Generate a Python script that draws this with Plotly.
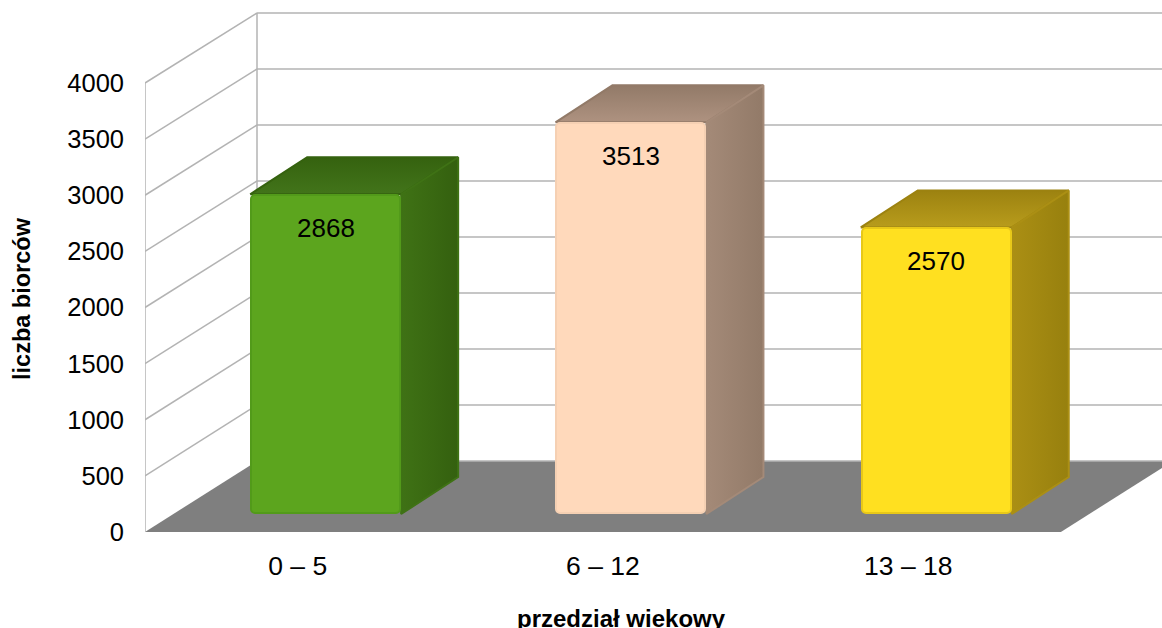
import plotly.graph_objects as go

categories = ["0 – 5", "6 – 12", "13 – 18"]
values = [2868, 3513, 2570]
y_ticks = [0, 500, 1000, 1500, 2000, 2500, 3000, 3500, 4000]
x_title = "przedział wiekowy"
y_title = "liczba biorców"

front_colors = ["#5CA51E", "#FFD9BB", "#FFE020"]
edge_colors = ["#529A1A", "#F5D0B3", "#E8C818"]
top_colors = [("#35620F", "#42741A"), ("#927A68", "#AE9280"), ("#9C8210", "#B89C1C")]
side_colors = [("#3F7215", "#34600F"), ("#A48A78", "#927A68"), ("#AB8F14", "#97800E")]

W, H = 1162, 628
LEFT, BOTTOM = 145, 96
PX_PER_CAT = 305.3
PX_PER_VAL = 449 / 4000

px_x = lambda p: p / PX_PER_CAT
px_y = lambda p: p / PX_PER_VAL

X0 = -0.5
WALL_DX = px_x(112)
WALL_DY = px_y(71)
BACK_SCALE = 448 / 449
BAR_SHIFT = px_x(28)
BAR_WIDTH = px_x(151)
BAR_BASE = px_y(18)
BAR_SCALE = 0.9933
BAR_DX = px_x(57)
BAR_DY = px_y(37)
GRID = "#B3B3B3"
FONT = "Liberation Sans"

shapes = []
line = dict(color=GRID, width=1.5)
x_front_end = X0 + len(categories)
x_back = X0 + WALL_DX
x_end = x_front_end + WALL_DX

# floor
floor_path = (
    f"M {X0} 0 L {x_back} {WALL_DY} L {x_end} {WALL_DY} L {x_front_end} 0 Z"
)
shapes.append(dict(type="path", path=floor_path, fillcolor="#7F7F7F",
                   line=dict(width=0), layer="below", xref="x", yref="y"))
# walls
for v in y_ticks:
    yb = WALL_DY + v * BACK_SCALE
    if v > 0:
        shapes.append(dict(type="line", x0=X0, y0=v, x1=x_back, y1=yb, line=line, layer="below"))
    shapes.append(dict(type="line", x0=x_back, y0=yb, x1=x_end, y1=yb, line=line, layer="below"))
shapes.append(dict(type="line", x0=X0, y0=0, x1=X0, y1=y_ticks[-1], line=line, layer="below"))
shapes.append(dict(type="line", x0=x_back, y0=WALL_DY, x1=x_back,
                   y1=WALL_DY + y_ticks[-1] * BACK_SCALE, line=line, layer="below"))

fig = go.Figure()
centers = [i + BAR_SHIFT for i in range(len(categories))]
heights = [v * BAR_SCALE for v in values]

annotations = []
for c, h, val, top, side in zip(centers, heights, values, top_colors, side_colors):
    xl, xr = c - BAR_WIDTH / 2, c + BAR_WIDTH / 2
    yt = BAR_BASE + h
    # top face
    fig.add_trace(go.Scatter(
        x=[xl, xr, xr + BAR_DX, xl + BAR_DX, xl], y=[yt, yt, yt + BAR_DY, yt + BAR_DY, yt],
        mode="lines", fill="toself", line=dict(color=top[0], width=2),
        fillgradient=dict(type="vertical", colorscale=[[0, top[1]], [1, top[0]]]),
        hoverinfo="skip", showlegend=False,
    ))
    # side face
    fig.add_trace(go.Scatter(
        x=[xr, xr + BAR_DX, xr + BAR_DX, xr, xr],
        y=[yt, yt + BAR_DY, BAR_BASE + BAR_DY, BAR_BASE, yt],
        mode="lines", fill="toself", line=dict(color=side[0], width=2),
        fillgradient=dict(type="horizontal", colorscale=[[0, side[0]], [1, side[1]]]),
        hoverinfo="skip", showlegend=False,
    ))
    annotations.append(dict(x=c, y=yt, yshift=-34, text=str(val), showarrow=False,
                            font=dict(family=FONT, size=26, color="#000000"),
                            xref="x", yref="y", yanchor="middle", xanchor="center"))

# front faces as an overlaid axis pair so they sit on top of the side and top faces
fig.add_trace(go.Bar(
    x=centers, y=[h - px_y(2) for h in heights], base=BAR_BASE + px_y(1),
    width=BAR_WIDTH - px_x(2), xaxis="x2", yaxis="y2",
    marker=dict(color=front_colors, line=dict(color=edge_colors, width=2), cornerradius=4),
    hoverinfo="skip", showlegend=False,
))

plot_h = H - BOTTOM
plot_w = W - LEFT
annotations.append(dict(
    text=f"<b>{x_title}</b>", xref="paper", yref="paper", showarrow=False,
    x=(621 - LEFT) / plot_w, y=(plot_h - 618) / plot_h, xanchor="center", yanchor="middle",
    font=dict(family=FONT, size=24, color="#000000"),
))
annotations.append(dict(
    text=f"<b>{y_title}</b>", xref="paper", yref="paper", showarrow=False, textangle=-90,
    x=(22 - LEFT) / plot_w, y=(plot_h - 299) / plot_h, xanchor="center", yanchor="middle",
    font=dict(family=FONT, size=23.5, color="#000000"),
))

x_range = [X0, X0 + plot_w / PX_PER_CAT]
y_range = [0, plot_h / PX_PER_VAL]

fig.update_layout(
    width=W, height=H,
    margin=dict(l=LEFT, r=0, t=0, b=BOTTOM, pad=0),
    paper_bgcolor="white", plot_bgcolor="white",
    font=dict(family=FONT, size=25.5, color="#000000"),
    shapes=shapes, annotations=annotations, bargap=0,
    xaxis=dict(
        range=x_range,
        tickvals=list(range(len(categories))), ticktext=categories,
        tickfont=dict(size=26.5),
        showgrid=False, zeroline=False, showline=False, ticks="",
        ticklabelstandoff=15,
    ),
    yaxis=dict(
        range=y_range,
        tickvals=y_ticks, showgrid=False, zeroline=False, showline=False, ticks="",
        ticklabelstandoff=20,
    ),
    xaxis2=dict(range=x_range, overlaying="x", visible=False),
    yaxis2=dict(range=y_range, overlaying="y", visible=False),
)

fig.write_html("out.html", config=dict(displayModeBar=False),
               post_script="document.body.style.margin='0';document.body.style.overflow='hidden';")
